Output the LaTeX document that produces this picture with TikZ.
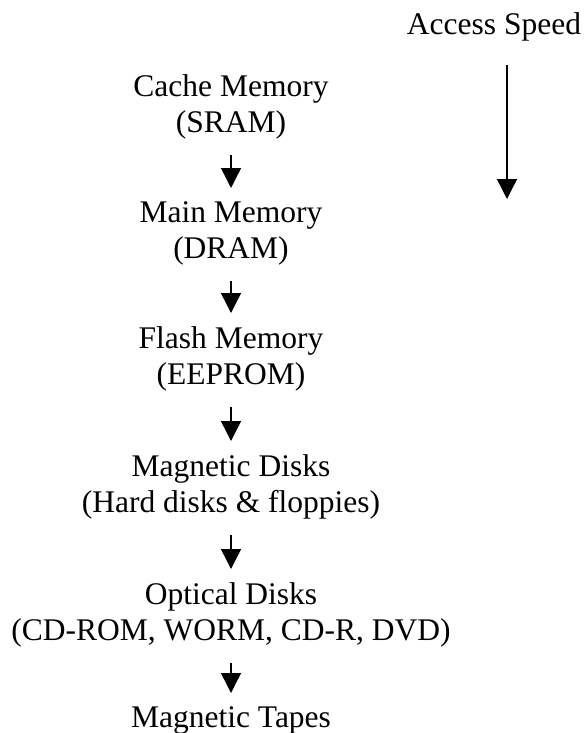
\documentclass[tikz,border=0pt]{standalone}
\usepackage{fontspec}
\setmainfont{Liberation Serif}
\usetikzlibrary{arrows.meta}

\begin{document}
\begin{tikzpicture}[
			x=1pt, y=1pt,
			every node/.style={font=\fontsize{31.5}{36}\selectfont, inner sep=0pt, align=center, anchor=north},
			level/.style={line width=1.4pt, -{Triangle[length=20pt,width=20pt]}, shorten <=16pt, shorten >=13.5pt}
			]
			\useasboundingbox (0,0) rectangle (585,-733);
			
			% Memory levels
			\node (cache) at (231,-74.5) {Cache Memory\\(SRAM)};
			\node (main) at (231,-201.5) {Main Memory\\(DRAM)};
			\node (flash) at (231,-326.5) {Flash Memory\\(EEPROM)};
			\node (disks) at (231,-454.5) {Magnetic Disks\\(Hard disks \& floppies)};
			\node (optical) at (231,-582.5) {Optical Disks\\(CD-ROM, WORM, CD-R, DVD)};
			\node (tapes) at (231,-706.5) {Magnetic Tapes};
			
			% Arrows between levels
			\draw[level] (cache.south) -- (main.north);
			\draw[level] (main.south) -- (flash.north);
			\draw[level] (flash.south) -- (disks.north);
			\draw[level] (disks.south) -- (optical.north);
			\draw[level] (optical.south) -- (tapes.north);
			
			% Access speed
			\node (speed) at (494,-12.5) {Access Speed};
			\coordinate (speedtop) at (507,-65);
			\coordinate (speedend) at (507,-199);
			\draw[line width=1.4pt, -{Triangle[length=20pt,width=20pt]}] (speedtop) -- (speedend);
		\end{tikzpicture}
\end{document}
